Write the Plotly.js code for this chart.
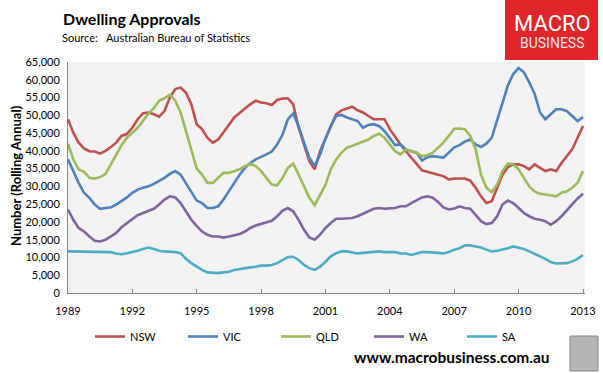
<!DOCTYPE html>
<html>
<head>
<meta charset="utf-8">
<script src="https://cdn.plot.ly/plotly-3.0.1.min.js"></script>
<style>html,body{margin:0;padding:0;background:#fff;}#chart{width:603px;height:373px;}</style>
</head>
<body>
<div id="chart"></div>
<script>
// Quarterly observations, Jan 1989 .. Jan 2013
var startYear = 1989, endYear = 2013;
var quarters = [];
for (var yr = startYear; yr <= endYear; yr++) {
  ['01','04','07','10'].forEach(function (m) {
    if (yr < endYear || m === '01') quarters.push(yr + '-' + m + '-01');
  });
}
var tickYears = ['1989','1992','1995','1998','2001','2004','2007','2010','2013'];

var nsw = [48900,45100,42300,40700, 39900,39800,39200,40000, 41100,42300,44200,44800,
  46500,48900,50600,50800, 50300,49600,51200,55000, 57400,57800,56400,53100,
  47500,46100,43700,42300, 43200,45100,47300,49400, 50800,51900,53100,54100,
  53600,53400,52900,54300, 54700,54800,53100,46500, 41800,37100,34800,39900,
  43500,47000,50300,51400, 51900,52400,51400,50800, 49800,48900,48900,48900,
  46100,43900,41800,39900, 38100,36200,34500,34100, 33800,33300,32900,31900,
  32200,32200,32200,31600, 29600,27200,25300,25800, 29600,33300,35400,36200,
  36200,35700,34800,36200, 35200,34300,34800,34300, 36600,38500,40400,43700, 47000];
var vic = [37600,34300,31000,28200, 26800,24900,23700,23900, 24100,24900,25800,26900,
  28200,29100,29600,30000, 30700,31500,32400,33500, 34300,33300,31000,28600,
  26000,25300,23900,23900, 24400,26300,28600,31000, 33300,35200,36600,37600,
  38200,39000,39800,41800, 44600,48900,50500,47000, 42300,38100,35700,39000,
  43500,47000,49800,50100, 49400,48900,48400,46500, 47300,47500,47000,45600,
  43700,41600,41800,40400, 39900,39500,37300,38200, 38500,38200,38100,39500,
  41000,41600,42600,43200, 41800,41100,42000,43700, 48400,53100,58300,61600,
  63300,62100,59300,56000, 50800,48900,50300,51700, 51700,51200,49800,48400, 49500];
var qld = [42000,37600,34800,34100, 32400,32200,32600,33500, 36200,39000,41600,43700,
  45100,46500,48400,50500, 52000,54100,54800,55800, 54100,50800,45600,39900,
  35000,33300,31000,31000, 32400,33800,33800,34300, 34800,35700,36400,35700,
  34300,32400,30500,30300, 32400,35200,36400,33300, 30000,26800,24700,27700,
  30500,34800,37600,39500, 40900,41400,42000,42600, 43200,44200,44800,43700,
  41800,39900,39000,40400, 39900,39500,38500,38800, 39500,40900,42300,44200,
  46200,46300,46100,44200, 40400,33300,29600,28400, 30500,34300,36400,36200,
  34800,32400,30000,28600, 27900,27700,27500,27200, 28200,28600,29600,31000, 34300];
var wa = [23500,20600,18300,17300, 15900,14700,14500,15000, 15900,16900,18500,19700,
  20900,21900,22500,23000, 23700,24900,26300,27200, 26900,25300,23000,20600,
  18800,17300,16400,15900, 15900,15600,15900,16200, 16600,17300,18300,19000,
  19400,20000,20300,21600, 23200,23900,23000,20600, 17800,15600,15000,16400,
  18300,19700,20900,20900, 21100,21100,21600,22200, 23000,23700,23900,23700,
  23900,23900,24400,24400, 25300,26000,26900,27200, 26800,25600,24100,23500,
  23800,24400,23900,23700, 22000,20200,19400,19700, 21600,24900,26000,25300,
  23900,22500,21600,20900, 20600,20200,19200,20200, 21600,23200,24900,26600, 27900];
var sa = [11700,11700,11700,11700, 11700,11700,11700,11600, 11500,11100,10900,11200,
  11500,11900,12400,12800, 12400,11900,11700,11700, 11500,11200,9600,8400,
  7400,6500,5800,5600, 5600,5800,6000,6500, 6800,7000,7200,7400,
  7700,7700,7900,8400, 9300,10100,10200,9300, 7900,7000,6500,7400,
  8800,10300,11200,11700, 11700,11300,11100,11300, 11500,11700,11700,11500,
  11500,11500,11100,11100, 10700,11100,11500,11500, 11500,11300,11100,11500,
  12200,12600,13400,13400, 13100,12800,12200,11700, 11900,12200,12600,13100,
  12800,12400,11700,10900, 10300,9600,8700,8300, 8300,8400,8900,9600, 10700];

var seriesNames = ['NSW','VIC','QLD','WA','SA'];
var seriesData = [nsw, vic, qld, wa, sa];
var seriesColors = ['#c0504d','#4f81bd','#9bbb59','#8064a2','#4bacc6'];

var F = 'Lato, "Liberation Sans", sans-serif';
var traces = seriesNames.map(function (n, i) {
  return {x: quarters, y: seriesData[i], type: 'scatter', mode: 'lines', name: n,
    line: {color: seriesColors[i], width: 2.6}};
});

var W = 603, H = 373, L = 68, R = 18, T = 62, B = 80;
var pw = W - L - R, ph = H - T - B;
function px(x) { return (x - L) / pw; }
function py(y) { return (H - B - y) / ph; }

var layout = {
  width: W, height: H,
  margin: {l: L, r: R, t: T, b: B, pad: 0},
  paper_bgcolor: '#ffffff', plot_bgcolor: '#f2f2f2',
  font: {family: F, size: 11, color: '#000'},
  showlegend: true,
  legend: {orientation: 'h', x: px(90), y: py(322), xanchor: 'left', yanchor: 'top',
    entrywidth: 48, entrywidthmode: 'pixels', font: {family: F, size: 11, color: '#000'},
    bgcolor: 'rgba(0,0,0,0)', tracegroupgap: 0},
  xaxis: {type: 'date', range: ['1989-01-01', '2013-02-04'],
    tickvals: tickYears.map(function (y) { return y + '-01-01'; }),
    ticktext: tickYears,
    ticks: 'inside', ticklen: 4, tickcolor: '#868686', tickwidth: 1,
    showline: true, linecolor: '#868686', linewidth: 1, ticklabelstandoff: 8,
    showgrid: false, zeroline: false, tickfont: {family: F, size: 11, color: '#000'}},
  yaxis: {range: [0, 65000], dtick: 5000, tickformat: ',d', ticks: '',
    showline: true, linecolor: '#868686', linewidth: 1,
    showgrid: false, zeroline: false, tickfont: {family: F, size: 11, color: '#000'},
    ticklabelstandoff: 5},
  shapes: [
    {type: 'rect', xref: 'paper', yref: 'paper', x0: px(505), x1: px(598), y0: py(60), y1: py(0),
      fillcolor: '#e1262b', line: {width: 0}, layer: 'above'},
    {type: 'rect', xref: 'paper', yref: 'paper', x0: px(570), x1: px(598), y0: py(371), y1: py(336),
      fillcolor: '#b5b5b5', line: {width: 1, color: '#888'}, layer: 'above'}
  ],
  annotations: [
    {text: '<b>Dwelling Approvals</b>', xref: 'paper', yref: 'paper', x: px(61), y: py(18),
      xanchor: 'left', yanchor: 'middle', showarrow: false, font: {family: F, size: 16, color: '#000'}},
    {text: 'Source:', xref: 'paper', yref: 'paper', x: px(60), y: py(38),
      xanchor: 'left', yanchor: 'middle', showarrow: false, font: {family: F, size: 11, color: '#000'}},
    {text: 'Australian Bureau of Statistics', xref: 'paper', yref: 'paper', x: px(104), y: py(38),
      xanchor: 'left', yanchor: 'middle', showarrow: false, font: {family: F, size: 11, color: '#000'}},
    {text: '<b>Number (Rolling Annual)</b>', xref: 'paper', yref: 'paper', x: px(16), y: py(176),
      xanchor: 'center', yanchor: 'middle', textangle: -90, showarrow: false,
      font: {family: F, size: 13, color: '#000'}},
    {text: 'MACRO', xref: 'paper', yref: 'paper', x: px(552), y: py(23),
      xanchor: 'center', yanchor: 'middle', showarrow: false,
      font: {family: 'Roboto, sans-serif', size: 22, color: '#ffffff'}},
    {text: 'BUSINESS', xref: 'paper', yref: 'paper', x: px(552), y: py(43),
      xanchor: 'center', yanchor: 'middle', showarrow: false,
      font: {family: 'Roboto, sans-serif', size: 14, color: '#fbe0e0'}},
    {text: '<b>www.macrobusiness.com.au</b>', xref: 'paper', yref: 'paper', x: px(552), y: py(357),
      xanchor: 'right', yanchor: 'middle', showarrow: false,
      font: {family: F, size: 15.5, color: '#000'}}
  ]
};

Plotly.newPlot('chart', traces, layout, {displayModeBar: false, staticPlot: true});
</script>
</body>
</html>
